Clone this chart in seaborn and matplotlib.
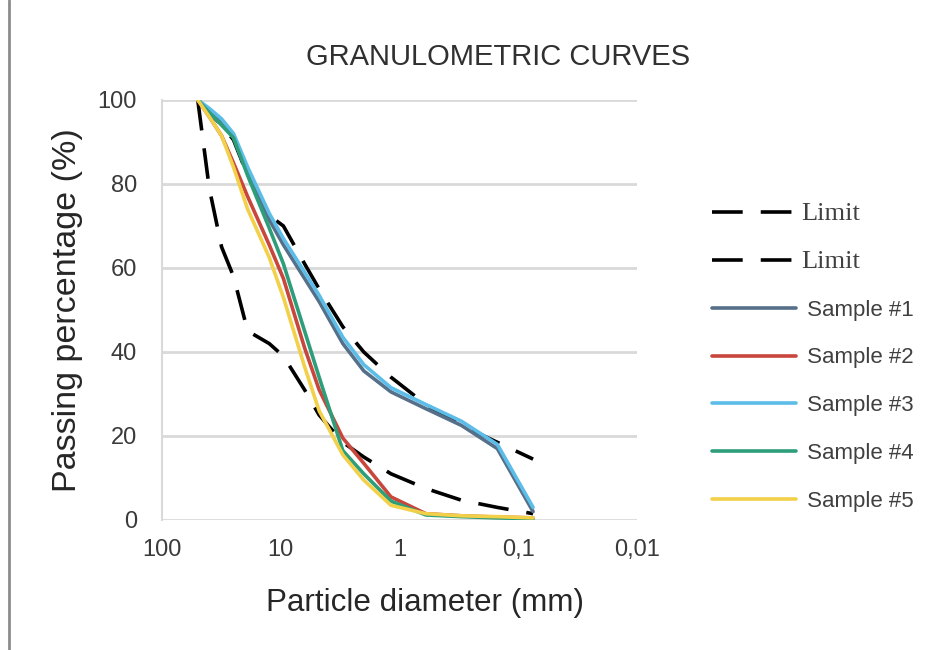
import numpy as np
import pandas as pd
import matplotlib
matplotlib.use("Agg")
import matplotlib.pyplot as plt
from matplotlib.lines import Line2D
import seaborn as sns

# sieve sizes (mm) and passing percentages
sizes_mm = [50, 40, 31.5, 25, 19, 12.5, 9.5, 6.3, 4.75, 3, 2, 1.18, 0.6, 0.3, 0.15, 0.075]

upper_limit = [100, 97, 94, 90.5, 82, 72.5, 70, 61, 55, 46, 40, 34, 27.5, 22.5, 18.5, 14.5]
lower_limit = [100, 79, 65, 58, 45, 42, 39, 31, 25, 18.5, 15, 11, 7.5, 4.7, 3, 1.5]

sample_1 = [100, 97.5, 94.5, 91, 82.5, 71.5, 65.5, 57.5, 52, 42, 35.5, 30.5, 26.5, 22.5, 17, 2]
sample_2 = [100, 96, 91.5, 85, 77, 65.5, 57.5, 41, 31, 19.5, 13.5, 5.5, 1.5, 1, 0.7, 0.5]
sample_3 = [100, 98, 95.5, 92, 84, 73, 67, 59, 53.5, 43.5, 37, 31.5, 27.5, 23.5, 18, 3]
sample_4 = [100, 97, 94, 91, 82, 69.5, 61, 45, 34, 16.5, 11, 4.5, 1.2, 0.8, 0.5, 0.3]
sample_5 = [100, 96, 91.5, 84, 74, 62.5, 53, 36.5, 26, 15.5, 9.5, 3.5, 1.5, 1, 0.8, 0.5]

sample_names = ["Sample #1", "Sample #2", "Sample #3", "Sample #4", "Sample #5"]
sample_colors = ["#56708a", "#c8463c", "#5bbde8", "#2e9e7a", "#f3d04a"]

x_ticks = [100, 10, 1, 0.1, 0.01]
x_tick_labels = ["100", "10", "1", "0,1", "0,01"]
y_ticks = [0, 20, 40, 60, 80, 100]

sns.set_theme(style="white")
plt.rcParams["font.family"] = ["Liberation Sans", "DejaVu Sans"]

fig = plt.figure(figsize=(9.43, 6.5), dpi=100)
ax = fig.add_axes([0.1718, 0.2, 0.5037, 0.6462])

# limits (dashed black)
for vals in [upper_limit, lower_limit]:
    d = pd.DataFrame({"size": sizes_mm, "passing": vals})
    sns.lineplot(data=d, x="size", y="passing", ax=ax, color="black",
                 linewidth=2.6, sort=False, estimator=None, label="Limit")
for line in ax.get_lines():
    line.set_dashes((8.5, 5))

# samples
for name, vals, col in zip(sample_names,
                           [sample_1, sample_2, sample_3, sample_4, sample_5],
                           sample_colors):
    d = pd.DataFrame({"size": sizes_mm, "passing": vals})
    sns.lineplot(data=d, x="size", y="passing", ax=ax, color=col,
                 linewidth=2.6, sort=False, estimator=None, label=name)

ax.set_xscale("log")
ax.set_xlim(100, 0.01)
ax.set_ylim(0, 100)
ax.set_xticks(x_ticks)
ax.set_xticklabels(x_tick_labels)
ax.minorticks_off()
ax.set_yticks(y_ticks)
ax.tick_params(axis="both", length=0, labelsize=17, colors="#3a3a3a")
ax.tick_params(axis="x", pad=14)
ax.tick_params(axis="y", pad=18)

ax.grid(axis="y", color="#d9d9d9", linewidth=2)
ax.grid(axis="x", visible=False)
ax.set_axisbelow(True)
for s in ["top", "right", "bottom"]:
    ax.spines[s].set_visible(False)
ax.spines["left"].set_color("#d9d9d9")
ax.spines["left"].set_linewidth(1.5)

ax.set_xlabel("Particle diameter (mm)", fontsize=22.6, color="#262626")
ax.set_ylabel("Passing percentage (%)", fontsize=24.5, color="#262626")
ax.xaxis.label.set_va("center")
ax.yaxis.label.set_va("center")
ax.xaxis.set_label_coords(0.554, -0.198)
ax.yaxis.set_label_coords(-0.198, 0.5)

fig.text(498 / 943, 1 - 57 / 650, "GRANULOMETRIC CURVES", ha="center", va="center",
         fontsize=21, color="#303030")

# legend outside on the right
handles, labels = ax.get_legend_handles_labels()
ax.get_legend().remove()
leg = fig.legend(handles, labels, loc="center left", bbox_to_anchor=(712 / 943, 1 - 357 / 650),
                 frameon=False, fontsize=16, handlelength=3.8, handletextpad=0.2,
                 labelspacing=1.2, borderpad=0, borderaxespad=0)
for t in leg.get_texts():
    t.set_color("#404040")
    if t.get_text() == "Limit":
        t.set_family(["Liberation Serif", "DejaVu Serif"])
        t.set_fontsize(19)
    else:
        t.set_text(" " + t.get_text())

# thin frame line on the left of the picture
fig.add_artist(Line2D([9 / 943, 9 / 943], [0, 1], transform=fig.transFigure,
                      color="#8c8c8c", linewidth=2))

fig.savefig("out.png", dpi=100)
